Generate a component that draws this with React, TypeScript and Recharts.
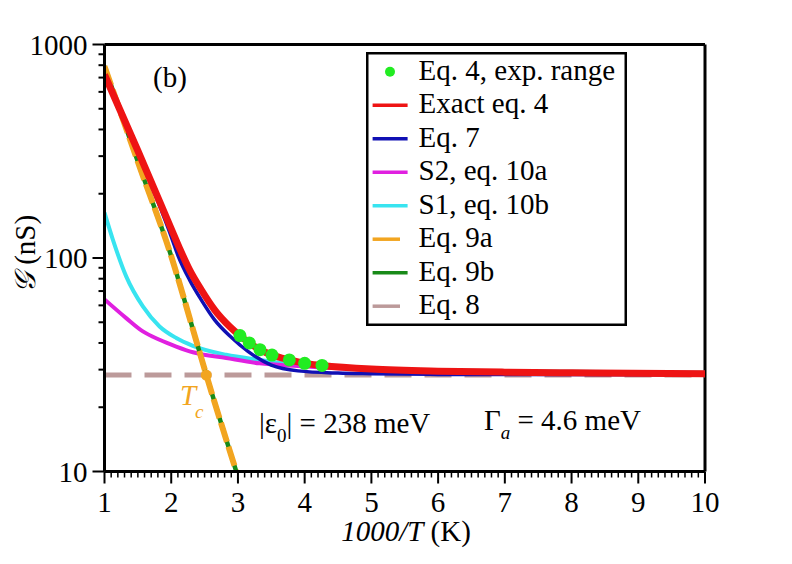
import React from 'react';
import { ComposedChart, Line, Scatter, XAxis, YAxis, ReferenceLine, Legend } from 'recharts';

const FONT = "'Liberation Serif', serif";
const fs = (size: number, extra: any = {}) => ({ fontFamily: FONT, fontSize: size, ...extra });

// ---- tick values ----
const xMajorTicks = [1, 2, 3, 4, 5, 6, 7, 8, 9, 10];
const yMajorTicks = [10, 100, 1000];
const yMinorFactors = [2, 3, 4, 5, 6, 7, 8, 9];

// ---- series (1000/T, G in nS) ----
const expX = [3.03, 3.17, 3.33, 3.51, 3.77, 4.0, 4.26];
const expG = [43.3, 40.0, 37.2, 35.1, 33.3, 32.1, 31.4];

const exactX = [1, 1.5, 2.0, 2.125, 2.275, 2.45, 2.65, 2.875, 3.03, 3.17, 3.33, 3.51, 3.77, 4.0, 4.26, 5, 6, 7, 8, 10];
const exactG = [722, 318, 137, 111, 88, 71, 57.2, 47.8, 43.3, 40.0, 37.2, 35.1, 33.3, 32.1, 31.4, 30.2, 29.5, 29.2, 29.0, 28.7];

const eq7X = [1, 1.5, 2.0, 2.1, 2.275, 2.45, 2.65, 2.9, 3.15, 3.5, 3.9, 4.5, 5, 6, 10];
const eq7G = [712, 312, 126, 103, 79, 63.7, 51.3, 42.5, 36.5, 31.5, 29.6, 28.9, 28.7, 28.5, 28.4];

const s2X = [1, 1.325, 1.575, 1.825, 2.075, 2.325, 2.825, 3.325, 3.9, 5, 7, 10];
const s2G = [64, 52.3, 45.3, 41.4, 38.5, 36.2, 34.0, 32.1, 31.2, 30.0, 29.3, 28.9];

const s1X = [1, 1.125, 1.325, 1.575, 1.825, 2.075, 2.325, 2.825, 3.325, 3.8, 4.5, 6, 10];
const s1G = [163, 122, 82, 59.3, 47.8, 42.2, 38.8, 35.2, 33.3, 31.8, 30.8, 29.7, 29];

const eq9X = [1, 1.5, 2.0, 2.4, 2.525, 2.975];
const eq9aG = [790, 282, 102, 38.5, 28.4, 10];
const eq9bG = [790, 282, 102, 38.5, 28.4, 10];

const eq8X = [1, 10];
const eq8G = [28.3, 28.3];

const tcX = [2.525];
const tcG = [28.3];

const C = {
  dots: '#22ec22',
  red: '#ee1414',
  blue: '#1010b4',
  magenta: '#e020e0',
  cyan: '#38e4f0',
  orange: '#f2a520',
  green: '#188a18',
  tan: '#bc9a9a',
};

const legendItems = [
  { name: 'Eq. 4, exp. range', color: C.dots, kind: 'dot' },
  { name: 'Exact eq. 4', color: C.red, kind: 'line' },
  { name: 'Eq. 7', color: C.blue, kind: 'line' },
  { name: 'S2, eq. 10a', color: C.magenta, kind: 'line' },
  { name: 'S1, eq. 10b', color: C.cyan, kind: 'line' },
  { name: 'Eq. 9a', color: C.orange, kind: 'dash' },
  { name: 'Eq. 9b', color: C.green, kind: 'line' },
  { name: 'Eq. 8', color: C.tan, kind: 'dash' },
];

const pts = (xs: number[], ys: number[]) => xs.map((x, i) => ({ x, y: ys[i] }));

// minor ticks derived from the major tick lists
const xTicks: number[] = [];
for (let i = 0; i < xMajorTicks.length - 1; i++) {
  for (let k = 0; k < 10; k++) xTicks.push(Math.round((xMajorTicks[i] + k / 10) * 10) / 10);
}
xTicks.push(xMajorTicks[xMajorTicks.length - 1]);
const yTicks: number[] = [];
for (let i = 0; i < yMajorTicks.length - 1; i++) {
  yTicks.push(yMajorTicks[i]);
  yMinorFactors.forEach((f) => yTicks.push(yMajorTicks[i] * f));
}
yTicks.push(yMajorTicks[yMajorTicks.length - 1]);

const YTick = (props: any) => {
  const { x, y, payload } = props;
  const v = payload.value;
  const major = yMajorTicks.includes(v);
  return (
    <g>
      <line x1={x - (major ? 12 : 6)} x2={x} y1={y} y2={y} stroke="#000" strokeWidth={2} />
      {major && (
        <text x={x - 17} y={y + 10} textAnchor="end" style={fs(29)} fill="#000">
          {v}
        </text>
      )}
    </g>
  );
};

const XTick = (props: any) => {
  const { x, y, payload } = props;
  const v = payload.value;
  const major = xMajorTicks.includes(v);
  return (
    <g>
      <line x1={x} x2={x} y1={y} y2={y + (major ? 12 : 6)} stroke="#000" strokeWidth={major ? 2 : 1.5} />
      {major && (
        <text x={x} y={y + 40} textAnchor="middle" style={fs(29)} fill="#000">
          {v}
        </text>
      )}
    </g>
  );
};

const LegendBox = () => (
  <svg width={261} height={274} style={{ display: 'block' }}>
    <rect x={1.25} y={1.25} width={258.5} height={271.5} fill="#fff" stroke="#000" strokeWidth={2.5} />
    {legendItems.map((it, i) => {
      const base = 27.7 + 33.5 * i;
      const cy = base - 8;
      return (
        <g key={i}>
          {it.kind === 'dot' ? (
            <circle cx={24} cy={cy} r={5} fill={it.color} />
          ) : (
            <line x1={6.6} x2={it.kind === 'dash' ? 34 : 41.6} y1={cy} y2={cy} stroke={it.color} strokeWidth={3.5} />
          )}
          <text x={52.6} y={base} style={fs(29)} fill="#000">
            {it.name}
          </text>
        </g>
      );
    })}
  </svg>
);

export default function App() {
  return (
    <div style={{ position: 'absolute', left: 0, top: 0, width: 792, height: 564, background: '#fff', fontFamily: FONT }}>
      <ComposedChart width={792} height={564} margin={{ top: 44.5, right: 87, left: 0, bottom: 0 }}>
        <XAxis
          type="number"
          dataKey="x"
          domain={[1, 10]}
          ticks={xTicks}
          interval={0}
          allowDataOverflow
          tickSize={0}
          tickMargin={0}
          tickLine={false}
          tick={<XTick />}
          axisLine={{ stroke: '#000', strokeWidth: 3 }}
          height={92.5}
        />
        <YAxis
          type="number"
          dataKey="y"
          scale="log"
          domain={[10, 1000]}
          ticks={yTicks}
          interval={0}
          allowDataOverflow
          tickSize={0}
          tickMargin={0}
          tickLine={false}
          tick={<YTick />}
          axisLine={{ stroke: '#000', strokeWidth: 3 }}
          width={104.5}
        />
        <ReferenceLine y={1000} stroke="#000" strokeWidth={3} />
        <ReferenceLine x={10} stroke="#000" strokeWidth={3} />

        <Line data={pts(eq8X, eq8G)} dataKey="y" type="linear" stroke={C.tan} strokeWidth={5} strokeDasharray="27 13" dot={false} activeDot={false} isAnimationActive={false} />
        <Line data={pts(s1X, s1G)} dataKey="y" type="monotone" stroke={C.cyan} strokeWidth={4} dot={false} activeDot={false} isAnimationActive={false} />
        <Line data={pts(s2X, s2G)} dataKey="y" type="monotone" stroke={C.magenta} strokeWidth={4} dot={false} activeDot={false} isAnimationActive={false} />
        <Line data={pts(eq9X, eq9bG)} dataKey="y" type="monotone" stroke={C.green} strokeWidth={4.5} dot={false} activeDot={false} isAnimationActive={false} />
        <Line data={pts(eq9X, eq9aG)} dataKey="y" type="monotone" stroke={C.orange} strokeWidth={6} strokeDasharray="20 5" dot={false} activeDot={false} isAnimationActive={false} />
        <Line data={pts(eq7X, eq7G)} dataKey="y" type="monotone" stroke={C.blue} strokeWidth={3.5} dot={false} activeDot={false} isAnimationActive={false} />
        <Line data={pts(exactX, exactG)} dataKey="y" type="monotone" stroke={C.red} strokeWidth={7} dot={false} activeDot={false} isAnimationActive={false} />
        <Scatter data={pts(expX, expG)} dataKey="y" fill={C.dots} isAnimationActive={false}
          shape={(p: any) => <circle cx={p.cx} cy={p.cy} r={6.5} fill={C.dots} />} />
        <Scatter data={pts(tcX, tcG)} dataKey="y" fill={C.orange} isAnimationActive={false}
          shape={(p: any) => <circle cx={p.cx} cy={p.cy} r={5.5} fill={C.orange} />} />

        <Legend
          layout="vertical"
          align="center"
          verticalAlign="middle"
          content={<LegendBox />}
          wrapperStyle={{ left: 366, top: 52, width: 261, height: 274, margin: 0, padding: 0 }}
        />
      </ComposedChart>
      <svg width={792} height={564} style={{ position: 'absolute', left: 0, top: 0, pointerEvents: 'none' }}>
        <g style={fs(29)} fill="#000">
          <text x={153} y={87} style={fs(29)}>(b)</text>
          <text x={180} y={405} fill={C.orange} style={fs(29, { fontStyle: 'italic' })}>T</text>
          <text x={195} y={418} fill={C.orange} style={fs(19, { fontStyle: 'italic' })}>c</text>
          <text x={259} y={433} style={fs(29)}>
            |ε<tspan style={fs(19)} dy={9}>0</tspan>
            <tspan dy={-9}>| = 238 meV</tspan>
          </text>
          <text x={484} y={430} style={fs(29)}>
            Γ<tspan style={fs(19, { fontStyle: 'italic' })} dy={9}>a</tspan>
            <tspan dy={-9}> = 4.6 meV</tspan>
          </text>
          <text x={406} y={541} textAnchor="middle" style={fs(29)}>
            <tspan style={{ fontStyle: 'italic' }}>1000/T</tspan> (K)
          </text>
          <text transform="translate(35,254) rotate(-90)" textAnchor="middle" style={fs(29)}>
            <tspan style={{ fontFamily: "'DejaVu Sans', serif", fontStyle: 'italic' }}>𝒢</tspan> (nS)
          </text>
        </g>
      </svg>
    </div>
  );
}
